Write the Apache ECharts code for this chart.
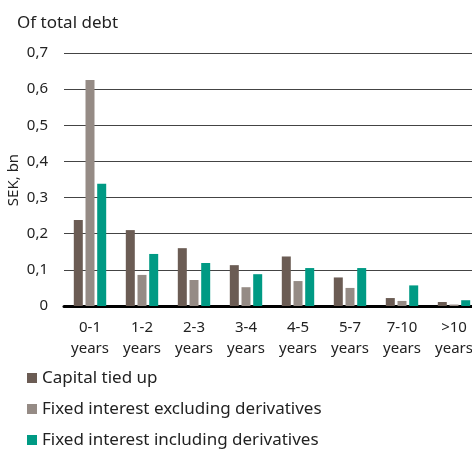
<!DOCTYPE html>
<html><head><meta charset="utf-8">
<script src="https://cdn.jsdelivr.net/npm/echarts@6/dist/echarts.min.js"></script>
<style>html,body{margin:0;padding:0;background:#fff}#c{width:472px;height:450px}</style>
</head><body><div id="c"></div>
<script>
const categories = ['0-1\nyears','1-2\nyears','2-3\nyears','3-4\nyears','4-5\nyears','5-7\nyears','7-10\nyears','>10\nyears'];
const capitalTiedUp = [0.238, 0.21, 0.16, 0.113, 0.137, 0.079, 0.022, 0.011];
const fixedExclDeriv = [0.625, 0.086, 0.072, 0.052, 0.069, 0.05, 0.014, 0.004];
const fixedInclDeriv = [0.338, 0.144, 0.119, 0.088, 0.105, 0.105, 0.057, 0.016];
const seriesNames = ['Capital tied up','Fixed interest excluding derivatives','Fixed interest including derivatives'];
const colors = ['#6b5c54','#958b85','#009a84'];
const font = 'Noto Sans';
const legendTops = [369, 400, 431];
const chart = echarts.init(document.getElementById('c'));
chart.setOption({
  animation: false,
  textStyle: {fontFamily: font},
  title: {text: 'Of total debt', left: 12, top: 10, textStyle: {fontFamily: font, fontSize: 17, fontWeight: 'normal', color: '#222'}},
  graphic: [{
    type: 'text', x: 14, y: 180, rotation: Math.PI / 2,
    style: {text: 'SEK, bn', fontFamily: font, fontSize: 15, fill: '#222', align: 'center', verticalAlign: 'middle'}
  }],
  legend: seriesNames.map((n, i) => ({
    orient: 'vertical', left: 27, top: legendTops[i], itemWidth: 10, itemHeight: 10,
    icon: 'rect', padding: 0,
    textStyle: {fontFamily: font, fontSize: 17, color: '#222', lineHeight: 18},
    data: [n]
  })),
  grid: {left: 64, right: -8, top: 53, bottom: 144, outerBoundsMode: 'none', containLabel: false},
  xAxis: {
    type: 'category', data: categories,
    axisLine: {lineStyle: {color: '#000', width: 3}},
    axisTick: {show: false},
    axisLabel: {fontFamily: font, fontSize: 15, color: '#222', lineHeight: 21, margin: 11, interval: 0}
  },
  yAxis: {
    type: 'value', min: 0, max: 0.7, interval: 0.1,
    axisLine: {show: false}, axisTick: {show: false},
    axisLabel: {fontFamily: font, fontSize: 15, color: '#222', margin: 16,
      formatter: v => v === 0 ? '0' : v.toFixed(1).replace('.', ',')},
    splitLine: {lineStyle: {color: '#444', width: 1}}
  },
  series: [
    {name: seriesNames[0], type: 'bar', data: capitalTiedUp, barWidth: 9, barGap: '30%', itemStyle: {color: colors[0]}},
    {name: seriesNames[1], type: 'bar', data: fixedExclDeriv, barWidth: 9, barGap: '30%', itemStyle: {color: colors[1]}},
    {name: seriesNames[2], type: 'bar', data: fixedInclDeriv, barWidth: 9, barGap: '30%', itemStyle: {color: colors[2]}}
  ]
});
</script></body></html>
